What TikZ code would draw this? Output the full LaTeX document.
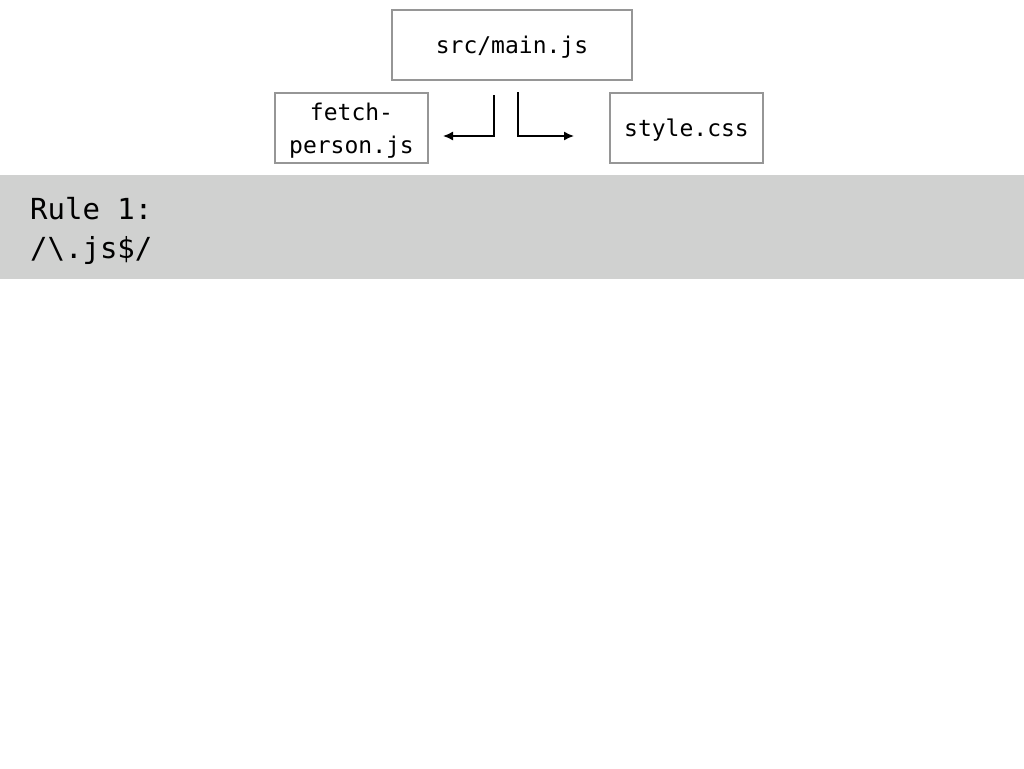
\documentclass[tikz,border=0pt]{standalone}
\usepackage{fontspec}
\setmonofont{DejaVu Sans Mono}
\usetikzlibrary{positioning}
\usetikzlibrary{arrows,arrows.meta}
\definecolor{bandgray}{RGB}{208,209,208}
\definecolor{boxgray}{RGB}{150,150,150}
\begin{document}
\begin{tikzpicture}[x = 1pt, y = -1pt]
\tikzstyle{FileStyle} = [shape = rectangle, draw = boxgray, line width = 2pt, inner sep = 0pt, text depth = 0pt, align = center, font = \ttfamily\fontsize{23}{33}\selectfont]
\tikzstyle{RuleStyle} = [anchor = base west, inner sep = 0pt, font = \ttfamily\fontsize{29}{36}\selectfont]
\tikzstyle{EdgeStyle} = [line width = 1.5pt, color = black, -{Latex[length = 10pt, width = 9pt]}]
\useasboundingbox (0,0) rectangle (1024,768);
\fill[white] (0,0) rectangle (1024,768);
\fill[bandgray] (0,175) rectangle (1024,279);
% files
\node[FileStyle, minimum width = 240pt, minimum height = 70pt] (f0) at (512,45) {src/main.js};
\node[FileStyle, minimum width = 153pt, minimum height = 70pt] (f1) at (351.5,128) {fetch-\\person.js};
\node[FileStyle, minimum width = 153pt, minimum height = 70pt] (f2) at (686.5,128) {style.css};
% rule
\node[RuleStyle] (r0) at (30,219) {Rule 1:};
\node[RuleStyle] (r1) at (30,258) {/\textbackslash.js\$/};
% arrows
\coordinate (c0) at (494,95);
\coordinate (c1) at (443,136);
\coordinate (c2) at (518,92);
\coordinate (c3) at (574,136);
\draw[EdgeStyle] (c0) |- (c1);
\draw[EdgeStyle] (c2) |- (c3);
\end{tikzpicture}
\end{document}
